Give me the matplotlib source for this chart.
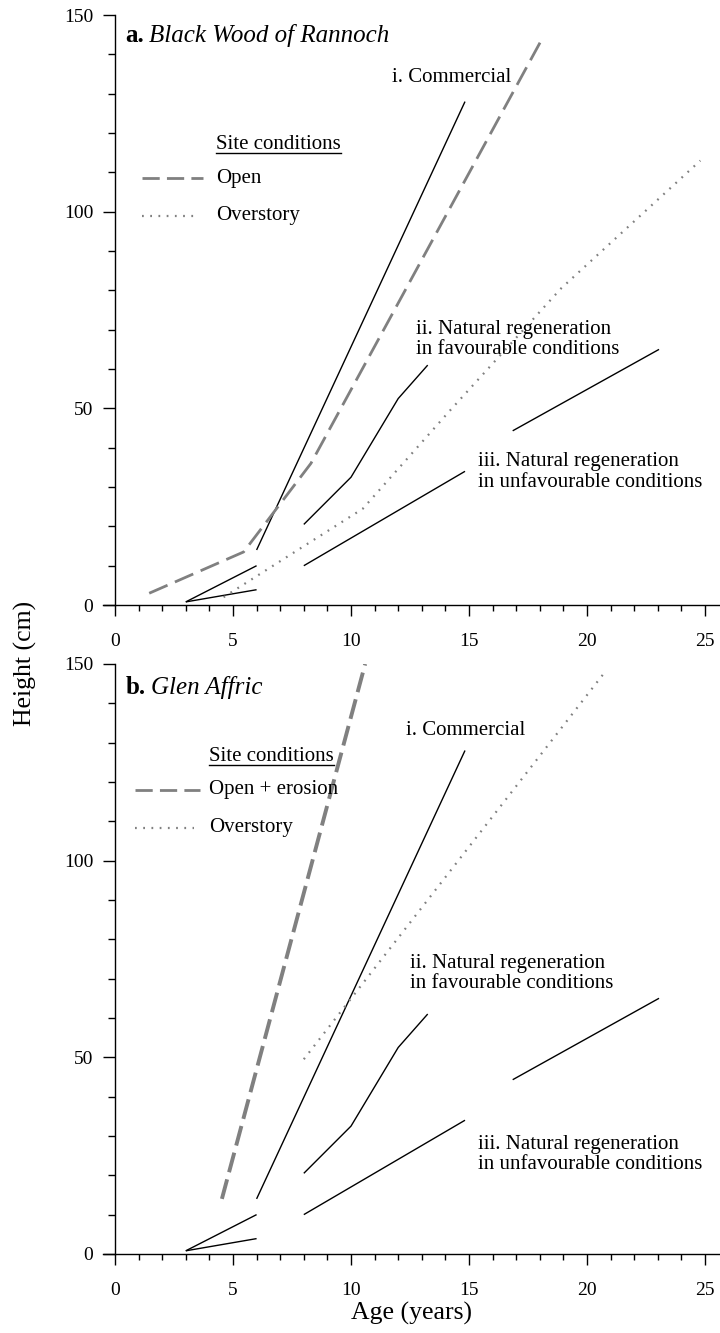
import numpy as np
import matplotlib
matplotlib.use("Agg")
import matplotlib.pyplot as plt
from matplotlib.lines import Line2D

plt.rcParams['font.family'] = ['Liberation Serif', 'DejaVu Serif']

# Data: age (years) and height (cm)
commercial_age = [6.0, 14.83]
commercial_h = [14.0, 128.0]

seedling_upper_age = [3.0, 6.0]
seedling_upper_h = [0.8, 10.0]
seedling_lower_age = [3.0, 6.0]
seedling_lower_h = [0.8, 3.9]

favourable_age = [8.0, 10.0, 12.0, 13.25]
favourable_h = [20.5, 32.5, 52.5, 61.0]

unfavourable_age = [8.0, 14.83, np.nan, 16.85, 23.05]
unfavourable_h = [10.0, 34.0, np.nan, 44.3, 65.0]

# a. Black Wood of Rannoch
rannoch_open_age = [1.45, 5.45, 8.3, 18.1]
rannoch_open_h = [3.0, 13.5, 36.0, 144.0]
rannoch_over_age = [4.6, 10.5, 14.2, 18.9, 24.8]
rannoch_over_h = [2.0, 24.5, 49.5, 80.5, 113.0]

# b. Glen Affric
affric_open_age = [4.53, 10.6]
affric_open_h = [14.0, 150.0]
affric_over_age = [8.0, 20.7]
affric_over_h = [49.5, 147.5]

GREY = '#808080'
FS_TICK = 14
FS_TXT = 15
DOTS = dict(color=GREY, lw=1.6, dashes=(0.8, 2.9))

fig = plt.figure(figsize=(7.2, 13.33), dpi=100)
ax_a = fig.add_axes([0.1433, 0.5461, 0.8556, 0.4426])
ax_b = fig.add_axes([0.1433, 0.0593, 0.8556, 0.4426])

underline_targets = []


def setup(ax):
    ax.set_xlim(-0.5, 25.6)
    ax.set_ylim(0, 150)
    ax.spines['top'].set_visible(False)
    ax.spines['right'].set_visible(False)
    ax.spines['left'].set_position(('data', 0))
    ax.set_xticks([0, 5, 10, 15, 20, 25])
    ax.set_xticks(np.arange(0, 26, 1), minor=True)
    ax.set_yticks([0, 50, 100, 150])
    ax.set_yticks(np.arange(0, 151, 10), minor=True)
    ax.tick_params(which='major', length=8.5, width=1.0, labelsize=FS_TICK, pad=7)
    ax.tick_params(which='minor', length=5, width=1.0)
    ax.tick_params(axis='x', which='major', length=8, pad=12)
    ax.tick_params(axis='x', which='minor', length=4.5)
    for s in ('left', 'bottom'):
        ax.spines[s].set_linewidth(1.0)


def common_lines(ax):
    kw = dict(color='black', lw=1.0, solid_capstyle='butt')
    ax.plot(commercial_age, commercial_h, **kw)
    ax.plot(seedling_upper_age, seedling_upper_h, **kw)
    ax.plot(seedling_lower_age, seedling_lower_h, **kw)
    ax.plot(favourable_age, favourable_h, **kw)
    ax.plot(unfavourable_age, unfavourable_h, **kw)


def title(ax, bold, italic, x, y):
    t = ax.text(x, y, bold, fontsize=18, fontweight='bold', va='bottom', ha='left')
    ax.annotate(italic, xy=(1, 0), xycoords=t, xytext=(4, 0), textcoords='offset points',
                fontsize=18, fontstyle='italic', va='bottom', ha='left')


def legend(ax, open_label, x0, x1, xt, y_head, y_open, y_over):
    t = ax.text(xt, y_head, 'Site conditions', fontsize=FS_TXT, va='center', ha='left')
    underline_targets.append(t)
    ax.plot([x0, x1], [y_open, y_open], color=GREY, lw=2.0, dashes=(6.2, 2.6))
    ax.plot([x0, x1 - 0.25], [y_over, y_over], **DOTS)
    ax.text(xt, y_open, open_label, fontsize=FS_TXT, va='center', ha='left')
    ax.text(xt, y_over, 'Overstory', fontsize=FS_TXT, va='center', ha='left')


def labels(ax, com, fav, unf):
    ax.text(com[0], com[1], 'i. Commercial', fontsize=FS_TXT, va='center', ha='left')
    ax.text(fav[0], fav[1], 'ii. Natural regeneration\nin favourable conditions',
            fontsize=FS_TXT, va='center', ha='left', linespacing=1.1)
    ax.text(unf[0], unf[1], 'iii. Natural regeneration\nin unfavourable conditions',
            fontsize=FS_TXT, va='center', ha='left', linespacing=1.1)


# Panel a
setup(ax_a)
common_lines(ax_a)
ax_a.plot(rannoch_open_age, rannoch_open_h, color=GREY, lw=2.0, dashes=(7.2, 2.9))
ax_a.plot(rannoch_over_age, rannoch_over_h, **DOTS)
title(ax_a, 'a.', 'Black Wood of Rannoch', 0.42, 142.0)
legend(ax_a, 'Open', 1.15, 3.75, 4.28, 117.0, 108.5, 99.0)
labels(ax_a, (11.75, 134.0), (12.75, 67.5), (15.4, 33.8))

# Panel b
setup(ax_b)
common_lines(ax_b)
ax_b.plot(affric_open_age, affric_open_h, color=GREY, lw=2.8, dashes=(5.2, 1.9))
ax_b.plot(affric_over_age, affric_over_h, **DOTS)
title(ax_b, 'b.', 'Glen Affric', 0.45, 141.0)
legend(ax_b, 'Open + erosion', 0.85, 3.6, 4.0, 126.5, 118.0, 108.3)
labels(ax_b, (12.33, 133.0), (12.5, 71.3), (15.4, 25.3))
ax_b.set_xlabel('Age (years)', fontsize=18.5, labelpad=2.5)

fig.text(0.036, 0.5026, 'Height (cm)', fontsize=18.5, rotation=90, ha='center', va='center')

# underline the legend headings
fig.canvas.draw()
renderer = fig.canvas.get_renderer()
inv = fig.transFigure.inverted()
for t in underline_targets:
    bb = t.get_window_extent(renderer)
    (x0, y0), (x1, _) = inv.transform([(bb.x0, bb.y0 + 1), (bb.x1, bb.y0 + 1)])
    fig.add_artist(Line2D([x0, x1], [y0, y0], color='black', lw=1.0, transform=fig.transFigure))

fig.savefig('out.png', dpi=100)
